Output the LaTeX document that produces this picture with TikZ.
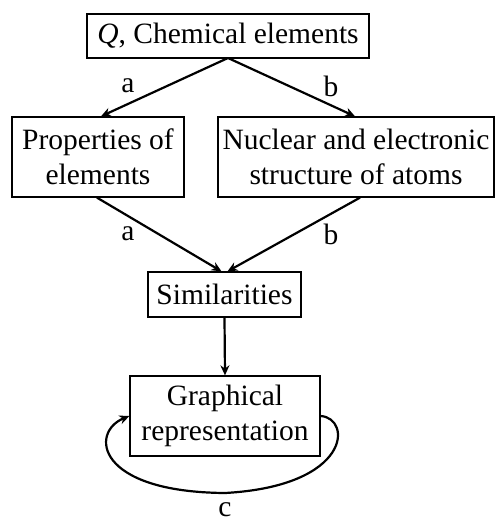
\documentclass[tikz,border=0pt]{standalone}
\usepackage{fontspec}
\setmainfont{Liberation Serif}
\usetikzlibrary{arrows.meta}
\begin{document}
\begin{tikzpicture}[x=1pt,y=-1pt,
  box/.style={draw,line width=1.3pt,align=center,inner sep=0pt,font=\fontsize{29.5}{35}\selectfont},
  arr/.style={line width=2.2pt,-{Stealth[length=10pt,width=9pt]}},
  lab/.style={font=\fontsize{29.5}{35}\selectfont,inner sep=0pt}]
\useasboundingbox (0,0) rectangle (495,522);
\node[box,minimum width=282pt,minimum height=44pt] (Q) at (228,36) {\textit{Q}, Chemical elements};
\node[box,minimum width=172pt,minimum height=80pt] (P) at (98,157) {Properties of\\elements};
\node[box,minimum width=276pt,minimum height=80pt] (N) at (356,157) {Nuclear and electronic\\structure of atoms};
\node[box,minimum width=153pt,minimum height=45pt] (S) at (224.5,294.5) {Similarities};
\node[box,minimum width=190pt,minimum height=80pt] (G) at (225,416) {Graphical\\representation};
\coordinate (q) at (228,58);
\draw[arr] (q) -- ([xshift=3pt]P.north);
\draw[arr] (q) -- ([xshift=-1pt]N.north);
\draw[arr] ([xshift=-1pt]P.south) -- ([xshift=-3pt]S.north);
\draw[arr] ([xshift=4pt]N.south) -- ([xshift=3pt]S.north);
\draw[arr] (S.south) -- (G.north);
\node[lab] (la1) at (128,86) {a};
\node[lab] (lb1) at (331,86) {b};
\node[lab] (la2) at (128,234) {a};
\node[lab] (lb2) at (331,234) {b};
\coordinate (bot) at (225,493);
\draw[arr] (G.east) .. controls (352,418) and (352,486) .. (bot) .. controls (95,492) and (90,432) .. (G.west);
\node[lab] (lc) at (225,510) {c};
\end{tikzpicture}
\end{document}
